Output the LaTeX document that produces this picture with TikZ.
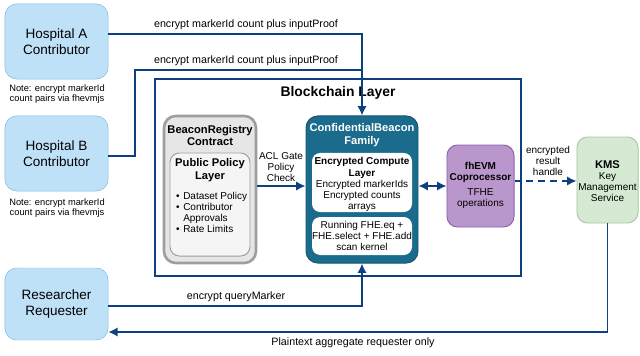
\documentclass[tikz,border=0pt]{standalone}
\usepackage{fontspec}
\setmainfont{Liberation Sans}
\usetikzlibrary{arrows.meta}

\definecolor{navy}{HTML}{0E3F7E}
\definecolor{hospfill}{HTML}{BFE1F8}
\definecolor{hospline}{HTML}{7DB6E0}
\definecolor{cbteal}{HTML}{1B6B8C}
\definecolor{regfill}{HTML}{E6E6E6}
\definecolor{regline}{HTML}{9E9E9E}
\definecolor{fhefill}{HTML}{B996CC}
\definecolor{fheline}{HTML}{8A62A8}
\definecolor{kmsfill}{HTML}{D6EAD3}
\definecolor{kmsline}{HTML}{A3CC9F}

\begin{document}
\begin{tikzpicture}[x=0.85pt, y=-0.85pt, >={Latex[length=8pt,width=8pt]},
  actor/.style={draw=hospline, fill=hospfill, rounded corners=10pt, align=center,
    minimum width=87.6pt, font=\fontsize{11.5}{13.6}\selectfont},
  lab/.style={font=\fontsize{8.5}{9.4}\selectfont, align=center, inner sep=0pt},
  elab/.style={font=\fontsize{9.1}{10}\selectfont, align=center, inner sep=0pt},
  note/.style={font=\fontsize{7.9}{8.6}\selectfont, align=center, inner sep=0pt},
  ttl/.style={font=\bfseries\fontsize{9.5}{11}\selectfont, align=center, inner sep=0pt},
  conn/.style={draw=navy, line width=1.6pt}]
\useasboundingbox (0,0) rectangle (640,356);

% contributors and requester
\node[actor, minimum height=63.8pt] (hospA) at (56.5,41.5) {Hospital A\\Contributor};
\node[note] (noteA) at (57,94) {Note: encrypt markerId\\count pairs via fhevmjs};
\node[actor, minimum height=63.8pt] (hospB) at (56.5,153.5) {Hospital B\\Contributor};
\node[note] (noteB) at (57,208) {Note: encrypt markerId\\count pairs via fhevmjs};
\node[actor, minimum height=61.2pt] (res) at (56.5,304) {Researcher\\Requester};

% blockchain layer
\node[draw=navy, line width=1.2pt, minimum width=311.1pt, minimum height=167.5pt] (chain) at (338,177.5) {};
\node[font=\bfseries\fontsize{11.8}{13}\selectfont, inner sep=0pt] (chainttl) at (338,93) {Blockchain Layer};

\node[draw=regline, line width=2.2pt, fill=regfill, rounded corners=10pt,
  minimum width=78.2pt, minimum height=125pt] (reg) at (210,189.5) {};
\node[ttl] (regttl) at (210,135.5) {BeaconRegistry\\Contract};
\node[draw=regline, line width=0.8pt, fill=white!60!regfill, rounded corners=8pt,
  minimum width=68pt, minimum height=87.6pt] (policy) at (210,204.5) {};
\node[ttl] (policyttl) at (210,170) {Public Policy\\Layer};
\node[lab, anchor=west] (rules) at (176,214) {\begin{tabular}{@{}l@{\hspace{3pt}}l@{}}
  \textbullet & Dataset Policy\\ \textbullet & Contributor\\ & Approvals\\ \textbullet & Rate Limits
  \end{tabular}};

\node[draw=cbteal!80!black, line width=0.8pt, fill=cbteal, rounded corners=10pt,
  minimum width=95.2pt, minimum height=125pt] (cb) at (362,189.5) {};
\node[ttl, text=white] (cbttl) at (362,135.5) {ConfidentialBeacon\\Family};
\node[fill=white, rounded corners=7pt, minimum width=85pt, minimum height=50.2pt,
  inner sep=0pt, lab] (compute) at (362,182.5) {};
\node[lab] (computetxt) at (362,184.5) {\textbf{Encrypted Compute}\\\textbf{Layer}\\Encrypted markerIds\\Encrypted counts\\arrays};
\node[fill=white, rounded corners=7pt, minimum width=85pt, minimum height=32.3pt,
  inner sep=0pt, lab] (scan) at (362,236) {Running FHE.eq +\\FHE.select + FHE.add\\scan kernel};

\node[draw=fheline, line width=0.8pt, fill=fhefill, rounded corners=9pt,
  minimum width=57pt, minimum height=69.7pt] (fhevm) at (480.5,186) {};
\node[lab] (fhevmtxt) at (480.5,185.5) {\textbf{fhEVM}\\\textbf{Coprocessor}\\[3pt]TFHE\\operations};

% key management
\node[draw=kmsline, line width=0.8pt, fill=kmsfill, rounded corners=9pt,
  minimum width=51.9pt, minimum height=73.1pt] (kms) at (607.5,180) {};
\node[lab] (kmstxt) at (607.5,181) {\textbf{\fontsize{9.5}{11}\selectfont KMS}\\Key\\Management\\Service};

% connectors
\draw[conn, ->] (hospA.east |- 0,34) -| (cb.north);
\node[elab] (encA) at (246,25) {encrypt markerId count plus inputProof};
\draw[conn] (hospB.east |- 0,156) -- (135,156) |- (cb.north |- 0,70);
\node[elab] (encB) at (246,61) {encrypt markerId count plus inputProof};
\draw[conn, ->] (reg.east |- 0,186) -- (cb.west |- 0,186);
\node[lab] (acl) at (281,167) {ACL Gate\\Policy\\Check};
\draw[conn, <->] (cb.east |- fhevm.west) -- (fhevm.west);
\draw[conn, ->, dashed, dash pattern=on 6pt off 4pt] (fhevm.east |- 0,181) -- (kms.west |- 0,181);
\node[lab] (handle) at (548,161) {encrypted\\result\\handle};
\draw[conn, ->] (res.east |- 0,306) -| (cb.south);
\node[elab] (query) at (236,297) {encrypt queryMarker};
\draw[conn, ->] (kms.south) |- (res.east |- 0,332);
\node[elab] (plain) at (353,343) {Plaintext aggregate requester only};
\end{tikzpicture}
\end{document}
